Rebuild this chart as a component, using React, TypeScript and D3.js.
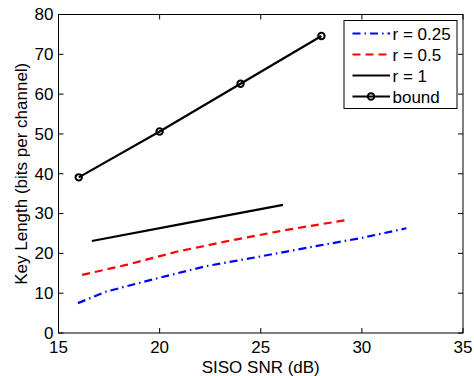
import React from "react";
import * as d3 from "d3";

const r025X = [15.96, 17.36, 19.84, 22.31, 24.95, 27.59, 29.9, 32.2];
const r025Y = [7.5, 10.4, 13.7, 16.8, 19.2, 21.7, 23.8, 26.3];
const r05X = [16.17, 18.35, 20.83, 23.47, 26.27, 29.27];
const r05Y = [14.6, 17.1, 20.4, 23.2, 25.9, 28.4];
const r1X = [16.65, 21.32, 26.1];
const r1Y = [23.1, 27.6, 32.2];
const boundX = [16, 20, 24, 28];
const boundY = [39.1, 50.6, 62.6, 74.6];
const xTicks = [15, 20, 25, 30, 35];
const yTicks = [0, 10, 20, 30, 40, 50, 60, 70, 80];
const legendLabels = ["r = 0.25", "r = 0.5", "r = 1", "bound"];

const W = 474, H = 376;
const L = 58.5, R = 463, T = 14.5, B = 333;
const FONT = "Liberation Sans, Arial, sans-serif";
const FS = 17;

export default function App() {
  const x = d3.scaleLinear().domain([15, 35]).range([L, R]);
  const y = d3.scaleLinear().domain([0, 80]).range([B, T]);
  const line = d3.line<[number, number]>().x(d => x(d[0])).y(d => y(d[1]));
  const pts = (xs: number[], ys: number[]) => xs.map((v, i) => [v, ys[i]] as [number, number]);
  const tl = 5;
  const series = [
    { d: pts(r025X, r025Y), color: "#0000ff", dash: "8,4,1.5,4" },
    { d: pts(r05X, r05Y), color: "#ff0000", dash: "8,5" },
    { d: pts(r1X, r1Y), color: "#000000", dash: "" },
    { d: pts(boundX, boundY), color: "#000000", dash: "" },
  ];
  const lgX = 344, lgY = 20.5, lgW = 113, lgH = 88;
  const rowY = [33.5, 54.5, 75.5, 96.5];
  return (
    <svg width={W} height={H} style={{ position: "absolute", left: 0, top: 0 }} fontFamily={FONT}>
      <rect x={0} y={0} width={W} height={H} fill="#fff" />
      {series.map((s, i) => (
        <path key={i} d={line(s.d) || ""} fill="none" stroke={s.color} strokeWidth={2.2} strokeDasharray={s.dash || undefined} />
      ))}
      {boundX.map((v, i) => (
        <circle key={i} cx={x(v)} cy={y(boundY[i])} r={3.2} fill="none" stroke="#000" strokeWidth={2} />
      ))}
      <rect x={L} y={T} width={R - L} height={B - T} fill="none" stroke="#000" strokeWidth={1} />
      {xTicks.map(t => (
        <g key={t}>
          <line x1={x(t)} x2={x(t)} y1={B} y2={B - tl} stroke="#000" />
          <line x1={x(t)} x2={x(t)} y1={T} y2={T + tl} stroke="#000" />
          <text x={x(t)} y={352.5} textAnchor="middle" fontSize={FS}>{t}</text>
        </g>
      ))}
      {yTicks.map(t => (
        <g key={t}>
          <line x1={L} x2={L + tl} y1={y(t)} y2={y(t)} stroke="#000" />
          <line x1={R} x2={R - tl} y1={y(t)} y2={y(t)} stroke="#000" />
          <text x={L - 5} y={y(t) + 5.8} textAnchor="end" fontSize={FS}>{t}</text>
        </g>
      ))}
      <text x={(L + R) / 2} y={372.5} textAnchor="middle" fontSize={FS}>SISO SNR (dB)</text>
      <text transform={`translate(26.5,${(T + B) / 2}) rotate(-90)`} textAnchor="middle" fontSize={FS}>Key Length (bits per channel)</text>
      <rect x={lgX} y={lgY} width={lgW} height={lgH} fill="#fff" stroke="#000" strokeWidth={1} />
      {legendLabels.map((lab, i) => (
        <g key={lab}>
          <line x1={352.5} x2={390} y1={rowY[i]} y2={rowY[i]} stroke={series[i].color} strokeWidth={2.2} strokeDasharray={series[i].dash || undefined} />
          {i === 3 && <circle cx={371} cy={rowY[i]} r={3.2} fill="none" stroke="#000" strokeWidth={2} />}
          <text x={392.5} y={rowY[i] + 6} fontSize={FS}>{lab}</text>
        </g>
      ))}
    </svg>
  );
}
